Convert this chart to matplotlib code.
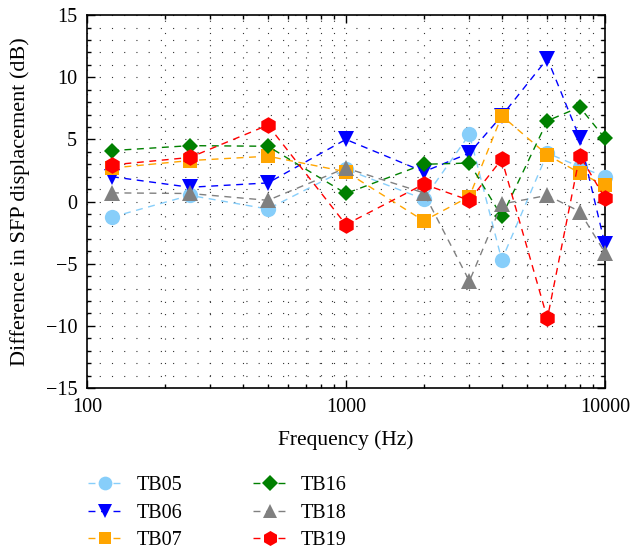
import numpy as np
import matplotlib
matplotlib.use('Agg')
import matplotlib.pyplot as plt
from matplotlib.ticker import MultipleLocator, FixedLocator, NullFormatter

plt.rcParams['font.family'] = ['Liberation Serif', 'DejaVu Serif']
plt.rcParams['axes.unicode_minus'] = True

# Frequencies and SFP displacement differences (dB)
freqs = [125, 250, 500, 1000, 2000, 3000, 4000, 6000, 8000, 10000]
tb05 = [-1.25, 0.5, -0.6, 2.6, 0.2, 5.4, -4.7, 3.9, 2.8, 2.0]
tb06 = [2.0, 1.15, 1.5, 5.0, 2.4, 3.9, 6.9, 11.5, 5.1, -3.4]
tb07 = [2.7, 3.3, 3.65, 2.4, -1.55, 0.4, 6.9, 3.75, 2.3, 1.3]
tb16 = [4.1, 4.5, 4.45, 0.65, 3.0, 3.1, -1.2, 6.5, 7.6, 5.1]
tb18 = [0.7, 0.65, 0.1, 2.7, 0.7, -6.4, -0.2, 0.5, -0.8, -4.1]
tb19 = [2.95, 3.55, 6.15, -1.85, 1.4, 0.1, 3.4, -9.4, 3.7, 0.3]

fig = plt.figure(figsize=(6.34, 5.5), dpi=100)
ax = fig.add_axes([0.137, 0.2945, 0.817, 0.678])

series = [
    ('TB05', tb05, '#87CEFA', 'o', 11),
    ('TB06', tb06, '#0000FF', 'v', 11),
    ('TB07', tb07, '#FFA500', 's', 9.5),
    ('TB16', tb16, '#008000', 'D', 8.5),
    ('TB18', tb18, '#808080', '^', 11),
    ('TB19', tb19, '#FF0000', 'h', 12),
]

for name, vals, col, mk, ms in series:
    ax.plot(freqs, vals, linestyle=(0, (5, 4)), lw=1.0, color=col,
            marker=mk, markersize=ms, markeredgewidth=0, label=name,
            clip_on=False, zorder=3)

ax.set_xscale('log')
ax.set_xlim(100, 10000)
ax.set_ylim(-15, 15)
ax.yaxis.set_major_locator(MultipleLocator(5))
ax.yaxis.set_minor_locator(MultipleLocator(1))
ax.set_xticks([100, 1000, 10000])
ax.set_xticklabels(['100', '1000', '10000'])
minors = [m * d for d in (100, 1000) for m in range(2, 10)]
ax.xaxis.set_minor_locator(FixedLocator(minors))
ax.xaxis.set_minor_formatter(NullFormatter())

ax.grid(True, which='both', color='#333333', lw=0.8, linestyle=(0, (1, 10)))
ax.tick_params(which='both', direction='in', top=True, right=True,
               labelsize=14.5, width=1.0)
ax.tick_params(which='major', length=6)
ax.tick_params(which='minor', length=3)
ax.tick_params(axis='x', pad=7)
ax.tick_params(axis='y', pad=7)
for sp in ax.spines.values():
    sp.set_linewidth(1.2)

ax.set_xlabel('Frequency (Hz)', fontsize=15.5, labelpad=10)
ax.set_ylabel('Difference in SFP displacement (dB)', fontsize=16, labelpad=11)

handles, labels = ax.get_legend_handles_labels()
fig.legend(handles, labels, loc='upper left', ncol=2, frameon=False,
           bbox_to_anchor=(88 / 634, 1 - 476 / 550), fontsize=14.5,
           borderpad=0, borderaxespad=0, handlelength=1.7,
           columnspacing=3.5, labelspacing=0.42, handletextpad=0.7,
           markerscale=0.9)

fig.savefig('out.png', dpi=100)
